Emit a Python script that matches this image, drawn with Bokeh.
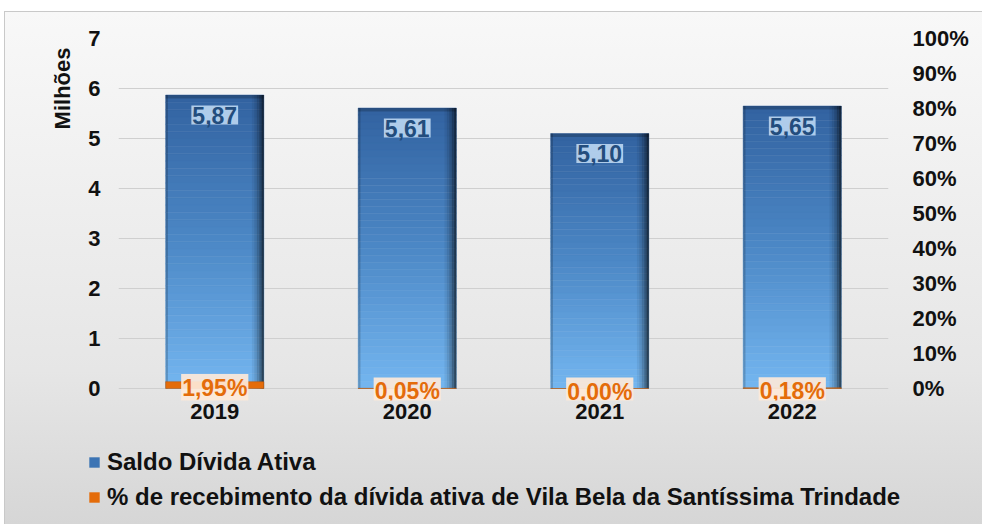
from bokeh.plotting import figure
from bokeh.layouts import column
from bokeh.models import (Range1d, LinearAxis, FactorRange, Legend, LegendItem,
                          ColumnDataSource, FixedTicker, PrintfTickFormatter, Title)
from bokeh.transform import dodge
from bokeh.core.properties import value
from bokeh.embed import file_html
from bokeh.resources import INLINE

# ---- data ----
years = ["2019", "2020", "2021", "2022"]
saldo = [5.87, 5.61, 5.10, 5.65]          # milhões
pct = [1.95, 0.05, 0.00, 0.18]            # %
saldo_labels = ["5,87", "5,61", "5,10", "5,65"]
pct_labels = ["1,95%", "0,05%", "0,00%", "0,18%"]
left_ticks = [0, 1, 2, 3, 4, 5, 6, 7]
right_ticks = [0, 10, 20, 30, 40, 50, 60, 70, 80, 90, 100]
series_names = ["Saldo Dívida Ativa",
                "% de recebimento da dívida ativa de Vila Bela da Santíssima Trindade"]
axis_unit = "Milhões"

FONT = "Liberation Sans"
BAR_W = 0.51
Y_MIN, Y_MAX = -0.24, 7          # small room below zero so the bottom labels are not clipped
P_MAX = 100
W = 977

p = figure(x_range=FactorRange(*years), y_range=Range1d(Y_MIN, Y_MAX),
           frame_width=770, frame_height=362,
           min_border_left=113, min_border_right=W - 113 - 770,
           min_border_top=26, min_border_bottom=40,
           output_backend="svg", toolbar_location=None)
p.frame_align = False
p.extra_y_ranges = {"pct": Range1d(Y_MIN / Y_MAX * P_MAX, P_MAX)}
p.border_fill_alpha = 0
p.background_fill_alpha = 0
p.outline_line_color = None

# ---- gradient bars (blue) ----
def mix(c1, c2, t):
    a = [int(c1[i:i + 2], 16) for i in (1, 3, 5)]
    b = [int(c2[i:i + 2], 16) for i in (1, 3, 5)]
    return "#%02x%02x%02x" % tuple(round(a[k] + (b[k] - a[k]) * t) for k in range(3))

stops = [(0.0, "#74b6f0"), (0.5, "#4c88c6"), (1.0, "#3262a0")]

def grad(f):
    for (f0, c0), (f1, c1) in zip(stops[:-1], stops[1:]):
        if f <= f1:
            return mix(c0, c1, (f - f0) / (f1 - f0))
    return stops[-1][1]

N = 40
sx, sb, st, sc = [], [], [], []
for j, yv in enumerate(years):
    for i in range(N):
        sx.append(yv)
        sb.append(saldo[j] * i / N)
        st.append(saldo[j] * (i + 1) / N)
        sc.append(grad((i + 0.5) / N))
slices = ColumnDataSource(dict(x=sx, bottom=sb, top=st, color=sc))
r_blue = p.vbar(x="x", bottom="bottom", top="top", width=BAR_W, source=slices,
                fill_color="color", line_color="color", line_width=0.5)

src = ColumnDataSource(dict(year=years, saldo=saldo, pct=pct,
                            saldo_lbl=saldo_labels, pct_lbl=pct_labels,
                            pct_mid=[v / 2 for v in pct],
                            bevel=[v - 0.07 for v in saldo]))

# right-edge shading
edge = [(0.200, 0.06), (0.213, 0.14), (0.226, 0.26), (0.239, 0.42), (0.250, 0.6)]
for k, (off, a) in enumerate(edge):
    w = 0.014 if k < len(edge) - 1 else 0.011
    p.vbar(x=dodge("year", off, range=p.x_range), top="saldo", width=w, source=src,
           fill_color="black", fill_alpha=a, line_color=None)
# left edge
p.vbar(x=dodge("year", -0.249, range=p.x_range), top="saldo", width=0.012, source=src,
       fill_color="black", fill_alpha=0.18, line_color=None)
# top bevel
p.vbar(x="year", bottom="bevel", top="saldo", width=BAR_W, source=src,
       fill_color="black", fill_alpha=0.2, line_color=None)

# ---- orange bars on secondary axis ----
r_orange = p.vbar(x="year", top="pct", width=BAR_W, source=src, y_range_name="pct",
                  fill_color="#e46c0a", line_color="#b85608", line_width=0.5)

# ---- data labels ----
p.text(x="year", y="saldo", text="saldo_lbl", source=src,
       text_font=value(FONT), text_font_style="bold", text_font_size="23px",
       text_color="#234d7d", text_align="center", text_baseline="middle",
       y_offset=20, background_fill_color="#bad5f0", background_fill_alpha=0.92,
       padding=1)
p.text(x="year", y="pct_mid", text="pct_lbl", source=src, y_range_name="pct",
       text_font=value(FONT), text_font_style="bold", text_font_size="23px",
       text_color="#e46c0a", text_align="center", text_baseline="middle",
       y_offset=3, background_fill_color="#fde9d9", background_fill_alpha=0.92,
       padding=1)

# ---- axes ----
p.xaxis.axis_line_color = None
p.xaxis.major_tick_line_color = None
p.xaxis.minor_tick_line_color = None
p.xaxis.major_tick_out = 0
p.xaxis.major_label_text_font = FONT
p.xaxis.major_label_text_font_style = "bold"
p.xaxis.major_label_text_font_size = "22px"
p.xaxis.major_label_text_color = "#111111"
p.xaxis.major_label_standoff = 3

p.yaxis.ticker = FixedTicker(ticks=left_ticks)
p.yaxis.axis_line_color = None
p.yaxis.major_tick_line_color = None
p.yaxis.minor_tick_line_color = None
p.yaxis.major_tick_out = 0
p.yaxis.major_label_text_font = FONT
p.yaxis.major_label_text_font_style = "bold"
p.yaxis.major_label_text_font_size = "22px"
p.yaxis.major_label_text_color = "#111111"
p.yaxis.major_label_standoff = 18

ra = LinearAxis(y_range_name="pct", ticker=FixedTicker(ticks=right_ticks),
                formatter=PrintfTickFormatter(format="%d%%"))
ra.axis_line_color = None
ra.major_tick_line_color = None
ra.minor_tick_line_color = None
ra.major_tick_out = 0
ra.major_label_text_font = FONT
ra.major_label_text_font_style = "bold"
ra.major_label_text_font_size = "22px"
ra.major_label_text_color = "#111111"
ra.major_label_standoff = 24
p.add_layout(ra, "right")

p.xgrid.grid_line_color = None
p.ygrid.ticker = FixedTicker(ticks=left_ticks)
p.ygrid.grid_line_color = "#cfcfcf"
p.ygrid.grid_line_width = 1

unit = Title(text=axis_unit, align="right", offset=9, standoff=22,
             text_font=FONT, text_font_style="bold", text_font_size="22px",
             text_color="#111111")
p.add_layout(unit, "left")

# ---- legend (separate strip below the chart) ----
LH = 84
q = figure(x_range=FactorRange(*years), y_range=Range1d(-100, -99),
           width=W, height=LH, min_border=0,
           output_backend="svg", toolbar_location=None)
q.frame_align = False
q.axis.visible = False
q.grid.visible = False
q.outline_line_color = None
q.border_fill_alpha = 0
q.background_fill_alpha = 0
# zero-size markers (outside the view) that only supply the legend swatches
lb = q.scatter(x="year", y="saldo", source=src, marker="square", size=0,
               fill_color="#3c74b4", line_color=None)
lo = q.scatter(x="year", y="pct", source=src, marker="square", size=0,
               fill_color="#e46c0a", line_color=None)

legend = Legend(items=[LegendItem(label=series_names[0], renderers=[lb]),
                       LegendItem(label=series_names[1], renderers=[lo])],
                location=(76, 13), orientation="vertical",
                glyph_width=26, glyph_height=26, label_standoff=0,
                label_height=28, spacing=7, padding=0, margin=0,
                label_text_font=FONT, label_text_font_style="bold",
                label_text_font_size="24px", label_text_color="#111111",
                background_fill_alpha=0, border_line_alpha=0)
q.add_layout(legend, "center")

layout = column(p, q, spacing=0,
                styles={"background": "linear-gradient(to bottom, #f8f8f8 0%, #e6e6e6 70%, #d6d6d6 100%)",
                        "border-top": "1px solid #c9c9c9", "border-left": "1px solid #c9c9c9",
                        "margin": "11px 0 0 4px"})

open("out.html", "w").write(file_html(layout, INLINE))
